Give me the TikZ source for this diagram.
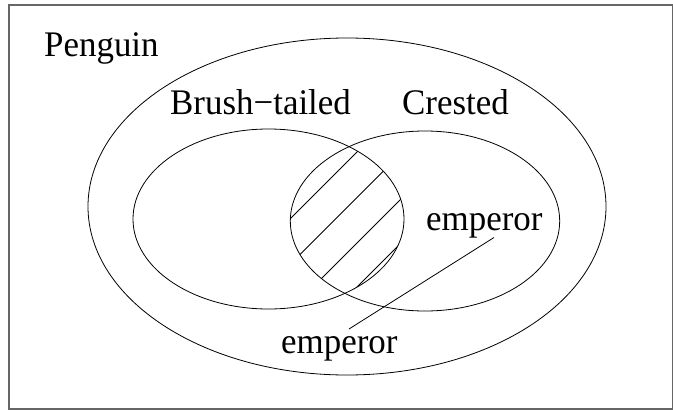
\documentclass[tikz,border=0pt]{standalone}
\usepackage{fontspec}
\setmainfont{Liberation Serif}
\begin{document}
\begin{tikzpicture}[x=1pt,y=-1pt,
  setline/.style={line width=0.8pt,black},
  hatchline/.style={line width=0.8pt,black},
  lbl/.style={inner sep=0pt,anchor=base west,font=\fontsize{36}{42}\selectfont,xscale=0.97}]
\useasboundingbox (0,0) rectangle (673,410);
% frame
\draw[line width=1.2pt,gray!80!black] (9,5) -- (672.5,5) -- (672.5,409) -- (9,409) -- cycle;
% sets
\draw[setline] (347,206.5) ellipse [x radius=259,y radius=168.5];
\draw[setline] (268.5,219) ellipse [x radius=135.5,y radius=90];
\draw[setline] (425,221) ellipse [x radius=134.7,y radius=90];
% hatching of the intersection
\begin{scope}
  \clip (268.5,219) ellipse [x radius=135.5,y radius=90];
  \clip (425,221) ellipse [x radius=134.7,y radius=90];
  \foreach \c in {509,554.5,600,644}
    \draw[hatchline] (\c-330,330) -- (\c-120,120);
\end{scope}
% labels
\node[lbl] (penguin) at (44,56) {Penguin};
\node[lbl] (brush) at (170,114) {Brush−tailed};
\node[lbl] (crested) at (402,114) {Crested};
\node[lbl] (emp1) at (426,230) {emperor};
\node[lbl] (emp2) at (281,353) {emperor};
% leader line
\coordinate (la) at (494,237.5);
\coordinate (lb) at (349,329);
\draw[setline] (la) -- (lb);
\end{tikzpicture}
\end{document}
